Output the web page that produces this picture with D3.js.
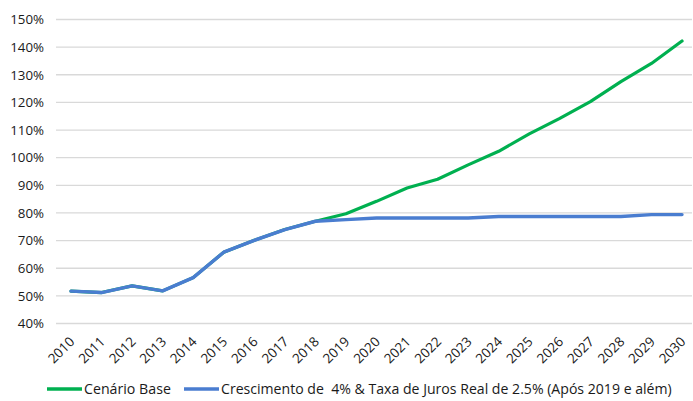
<!DOCTYPE html>
<html>
<head>
<meta charset="utf-8">
<script src="https://cdn.jsdelivr.net/npm/d3@7"></script>
<style>
  html, body { margin: 0; padding: 0; background: #fff; }
  svg { display: block; font-family: "Open Sans", Lato, sans-serif; }
  text { white-space: pre; }
</style>
</head>
<body>
<svg id="chart" width="693" height="401"></svg>
<script>
// Anos no eixo horizontal
const years = [2010, 2011, 2012, 2013, 2014, 2015, 2016, 2017, 2018, 2019, 2020,
               2021, 2022, 2023, 2024, 2025, 2026, 2027, 2028, 2029, 2030];

// Dívida (% do PIB) – cenário base
const baseScenario = [51.7, 51.2, 53.6, 51.8, 56.6, 65.8, 70.1, 74.0, 77.0, 79.7, 84.2,
                      89.0, 92.2, 97.4, 102.3, 108.6, 114.2, 120.3, 127.5, 134.1, 142.2];

// Dívida (% do PIB) – crescimento de 4% e juros reais de 2.5%
const growthScenario = [51.7, 51.2, 53.6, 51.8, 56.6, 65.8, 70.1, 74.0, 77.0, 77.6, 78.2,
                        78.2, 78.2, 78.2, 78.7, 78.7, 78.7, 78.7, 78.7, 79.4, 79.4];

const yTicks = [40, 50, 60, 70, 80, 90, 100, 110, 120, 130, 140, 150];

const seriesNames = ["Cenário Base",
                     "Crescimento de  4% & Taxa de Juros Real de 2.5% (Após 2019 e além)"];
const seriesColors = ["#00b050", "#4a7dd0"];

const FONT = "'Open Sans', Lato, sans-serif";
const svg = d3.select("#chart");

const plot = { left: 56, right: 692, top: 19.5, bottom: 323.5 };

const x = d3.scalePoint()
  .domain(years)
  .range([71, 682]);

const y = d3.scaleLinear()
  .domain([40, 150])
  .range([plot.bottom, plot.top]);

// Linhas de grade horizontais
svg.append("g")
  .selectAll("line")
  .data(yTicks)
  .join("line")
  .attr("x1", plot.left)
  .attr("x2", plot.right)
  .attr("y1", d => y(d))
  .attr("y2", d => y(d))
  .attr("stroke", "#d9d9d9")
  .attr("stroke-width", 1.3);

// Eixo Y
const yAxis = svg.append("g")
  .attr("transform", `translate(${plot.left},0)`)
  .call(d3.axisLeft(y).tickValues(yTicks).tickSize(0).tickPadding(12)
    .tickFormat(d => d + "%"));
yAxis.select(".domain").remove();
yAxis.selectAll("text")
  .attr("font-family", FONT)
  .attr("font-size", 13.3)
  .attr("fill", "#1a1a1a");

// Eixo X com rótulos inclinados
const xAxis = svg.append("g")
  .attr("transform", `translate(0,${plot.bottom})`)
  .call(d3.axisBottom(x).tickSize(0).tickPadding(0));
xAxis.select(".domain").remove();
xAxis.selectAll("text")
  .attr("font-family", FONT)
  .attr("font-size", 13.5)
  .attr("fill", "#1a1a1a")
  .attr("text-anchor", "end")
  .attr("dy", 0)
  .attr("transform", "translate(4,19) rotate(-45)");

const line = d3.line()
  .x((d, i) => x(years[i]))
  .y(d => y(d));

// Séries: cenário base por baixo, cenário alternativo por cima
svg.append("path")
  .datum(baseScenario)
  .attr("d", line)
  .attr("fill", "none")
  .attr("stroke", seriesColors[0])
  .attr("stroke-width", 3.2)
  .attr("stroke-linejoin", "round")
  .attr("stroke-linecap", "round");

svg.append("path")
  .datum(growthScenario)
  .attr("d", line)
  .attr("fill", "none")
  .attr("stroke", seriesColors[1])
  .attr("stroke-width", 3.4)
  .attr("stroke-linejoin", "round")
  .attr("stroke-linecap", "round");

// Legenda
const legendY = 389;
const legendItems = [
  { x: 47, name: seriesNames[0], color: seriesColors[0], width: 87 },
  { x: 184, name: seriesNames[1], color: seriesColors[1], width: 451 }
];
const legend = svg.append("g");
legendItems.forEach(item => {
  legend.append("line")
    .attr("x1", item.x).attr("x2", item.x + 35)
    .attr("y1", legendY).attr("y2", legendY)
    .attr("stroke", item.color)
    .attr("stroke-width", 3.4);
  const t = legend.append("text")
    .attr("x", item.x + 37)
    .attr("y", legendY + 5)
    .attr("font-family", FONT)
    .attr("font-size", 13.5)
    .attr("fill", "#1a1a1a")
    .text(item.name);
  // ajusta o tamanho da fonte para a largura desejada do rótulo
  const w = t.node().getComputedTextLength();
  t.attr("font-size", Math.min(15, 13.5 * item.width / w));
});
</script>
</body>
</html>
